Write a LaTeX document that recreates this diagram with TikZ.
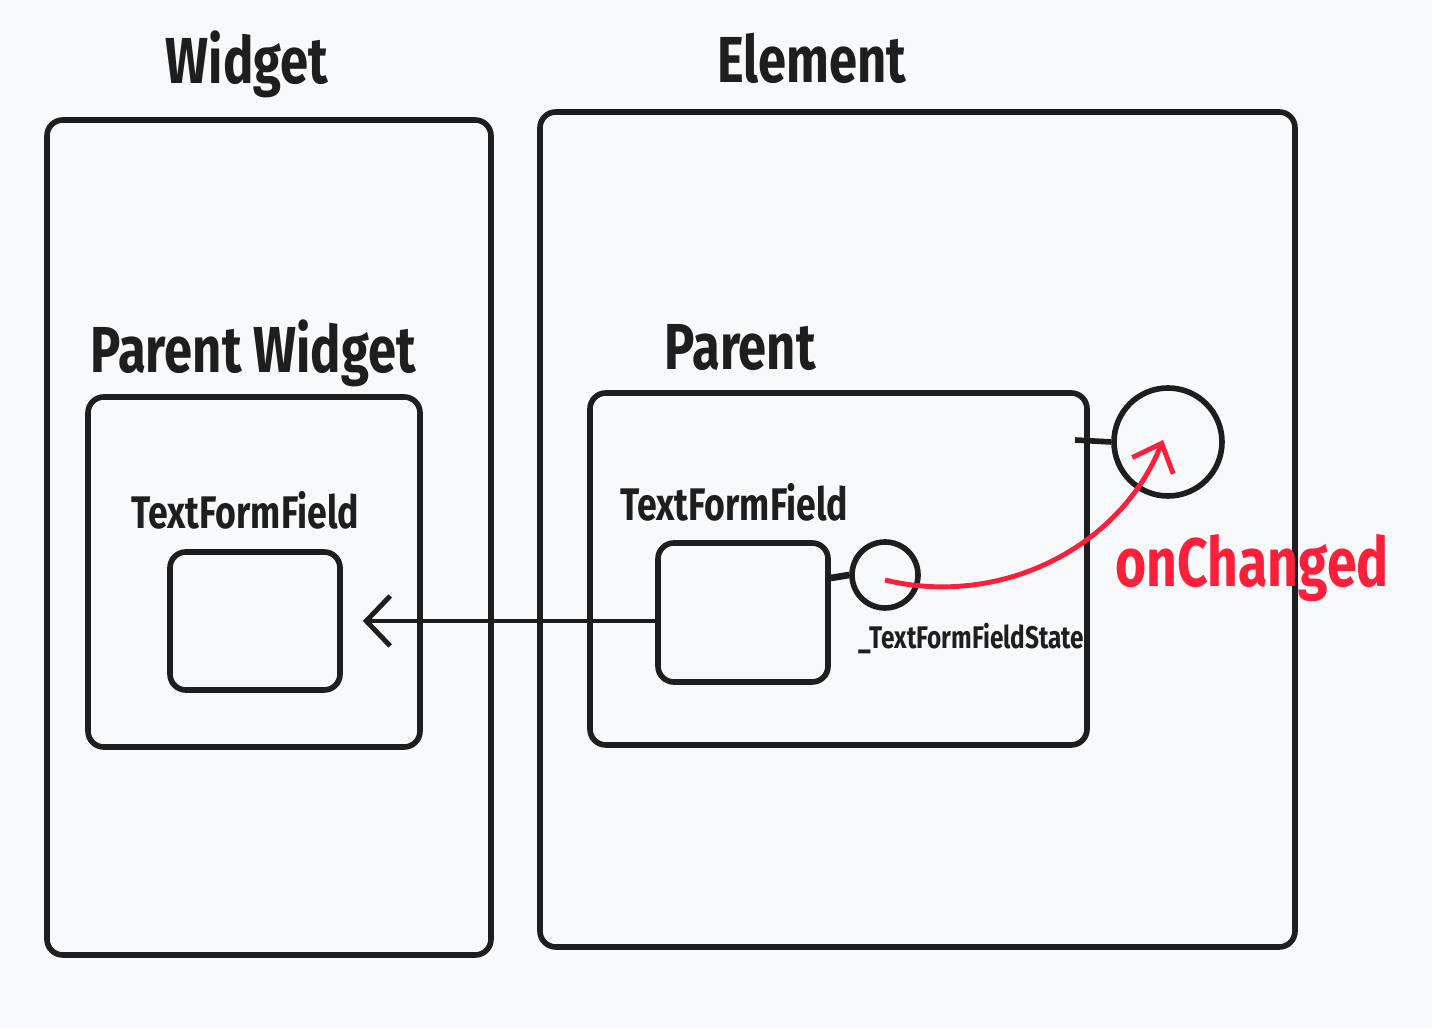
\documentclass[tikz,border=0pt]{standalone}
\usepackage{fontspec}
\setmainfont{Fira Sans}[FakeStretch=0.78]
\usepackage{tikz}
\usetikzlibrary{arrows.meta}
\usetikzlibrary{positioning}

\definecolor{ink}{RGB}{30,30,30}
\definecolor{paper}{RGB}{248,249,250}
\definecolor{signal}{RGB}{250,32,60}

\begin{document}
\begin{tikzpicture}
  [frame/.style={draw=ink, line width=1.6pt, rounded corners=4.5pt, inner sep=0pt},
  port/.style={circle, draw=ink, line width=1.6pt, inner sep=0pt},
  title/.style={text=ink, inner sep=0pt, font=\fontsize{18.5}{22}\selectfont\bfseries},
  caption/.style={text=ink, inner sep=0pt, font=\fontsize{13}{16}\selectfont\bfseries},
  wire/.style={draw=ink, line width=1.6pt}]
\useasboundingbox [fill=paper] (0,0) rectangle (14.32,10.28);

% outer columns
\node [frame, minimum width=4.44cm, minimum height=8.35cm] (widget) at (2.69,4.905) {};
\node [frame, minimum width=7.55cm, minimum height=8.35cm] (element) at (9.175,4.985) {};
\node [title] (widgetTitle) at (2.47,9.64) {Widget};
\node [title] (elementTitle) at (8.12,9.70) {Element};

% widget side
\node [frame, minimum width=3.32cm, minimum height=3.50cm] (parentWidget) at (2.54,4.56) {};
\node [title] (parentWidgetTitle) at (2.53,6.75) {Parent Widget};
\node [frame, minimum width=1.70cm, minimum height=1.38cm] (fieldWidget) at (2.55,4.07) {};
\node [caption] (fieldWidgetTitle) at (2.45,5.18) {TextFormField};

% element side
\node [frame, minimum width=4.97cm, minimum height=3.52cm] (parent) at (8.385,4.59) {};
\node [title] (parentTitle) at (7.40,6.80) {Parent};
\node [frame, minimum width=1.70cm, minimum height=1.39cm] (fieldElement) at (7.43,4.155) {};
\node [caption] (fieldElementTitle) at (7.34,5.26) {TextFormField};
\node [port, minimum size=0.66cm] (state) at (8.85,4.53) {};
\node [text=ink, inner sep=0pt, font=\fontsize{8.9}{11}\selectfont\bfseries,
  below right=0.22cm and -0.53cm of state] (stateTitle) {\_TextFormFieldState};
\node [port, minimum size=1.08cm] (callback) at (11.68,5.86) {};
\coordinate (stub) at (10.75,5.88);
\coordinate [right=0.20cm of fieldWidget.east] (tip);

% connectors
\draw [wire, line width=1.9pt] (fieldElement.east |- 0,4.50) -- (state.west);
\draw [wire] (stub) -- (callback.west);
\draw [wire, line width=1.2pt, -{Straight Barb[length=2.4mm, width=5mm, line width=1.4pt]}]
  (fieldElement.west |- tip) -- (tip);
\draw [draw=signal, line width=1.4pt, -{Straight Barb[length=2.4mm, width=4.4mm, line width=1.4pt]}]
  (state.center) ++(0,-0.05) .. controls (10.0,4.2) and (11.2,4.8) .. (11.63,5.88);
\node [text=signal, inner sep=0pt, font=\fontsize{19.5}{23}\selectfont\bfseries] (onChanged) at (12.52,4.60) {onChanged};
\end{tikzpicture}
\end{document}
